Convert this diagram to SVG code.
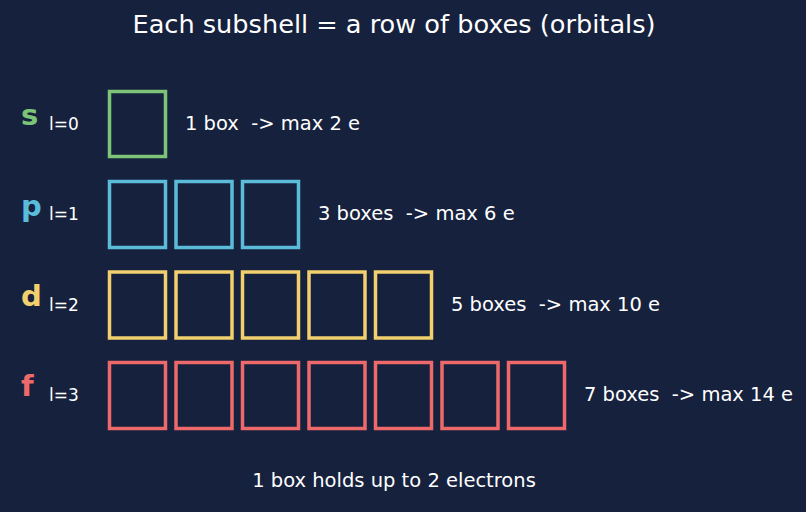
<svg xmlns="http://www.w3.org/2000/svg" width="806" height="512" viewBox="0 0 806 512">
<style>
text{white-space:pre}
.t{font-family:"DejaVu Sans",sans-serif;fill:#ffffff}
.lbl{font-family:"DejaVu Sans",sans-serif;font-weight:bold;font-size:29px}
.l{font-family:"DejaVu Sans",sans-serif;fill:#ffffff;font-size:17px}
.note{font-family:"DejaVu Sans",sans-serif;fill:#ffffff;font-size:19.5px}
rect.b{fill:none;stroke-width:3.5}
.s rect.b{stroke:#7cc576}
.p rect.b{stroke:#5bbcd9}
.d rect.b{stroke:#f2d06e}
.f rect.b{stroke:#ee6a6a}
</style>
<rect width="806" height="512" fill="#16213e"/>
<text class="t" x="394" y="33" font-size="25.6" text-anchor="middle">Each subshell = a row of boxes (orbitals)</text>
<g id="s" class="s">
<text class="lbl" x="21" y="125" fill="#7cc576">s</text>
<text class="l" x="49" y="130">l=0</text>
<rect class="b" x="109.5" y="91.5" width="56" height="65"/>
<text class="note" x="185" y="130" xml:space="preserve">1 box  -&gt; max 2 e</text>
</g>
<g id="p" class="p">
<text class="lbl" x="21" y="216" fill="#5bbcd9">p</text>
<text class="l" x="49" y="220">l=1</text>
<rect class="b" x="109.5" y="181.5" width="56" height="66"/>
<rect class="b" x="176" y="181.5" width="56" height="66"/>
<rect class="b" x="242.5" y="181.5" width="56" height="66"/>
<text class="note" x="318" y="220" xml:space="preserve">3 boxes  -&gt; max 6 e</text>
</g>
<g id="d" class="d">
<text class="lbl" x="21" y="306" fill="#f2d06e">d</text>
<text class="l" x="49" y="311">l=2</text>
<rect class="b" x="109.5" y="272" width="56" height="66"/>
<rect class="b" x="176" y="272" width="56" height="66"/>
<rect class="b" x="242.5" y="272" width="56" height="66"/>
<rect class="b" x="309" y="272" width="56" height="66"/>
<rect class="b" x="375.5" y="272" width="56" height="66"/>
<text class="note" x="451" y="311" xml:space="preserve">5 boxes  -&gt; max 10 e</text>
</g>
<g id="f" class="f">
<text class="lbl" x="21" y="396" fill="#ee6a6a">f</text>
<text class="l" x="49" y="401">l=3</text>
<rect class="b" x="109.5" y="362.5" width="56" height="66"/>
<rect class="b" x="176" y="362.5" width="56" height="66"/>
<rect class="b" x="242.5" y="362.5" width="56" height="66"/>
<rect class="b" x="309" y="362.5" width="56" height="66"/>
<rect class="b" x="375.5" y="362.5" width="56" height="66"/>
<rect class="b" x="442" y="362.5" width="56" height="66"/>
<rect class="b" x="508.5" y="362.5" width="56" height="66"/>
<text class="note" x="584" y="401" xml:space="preserve">7 boxes  -&gt; max 14 e</text>
</g>
<text class="note" x="394" y="487" text-anchor="middle">1 box holds up to 2 electrons</text>
</svg>
